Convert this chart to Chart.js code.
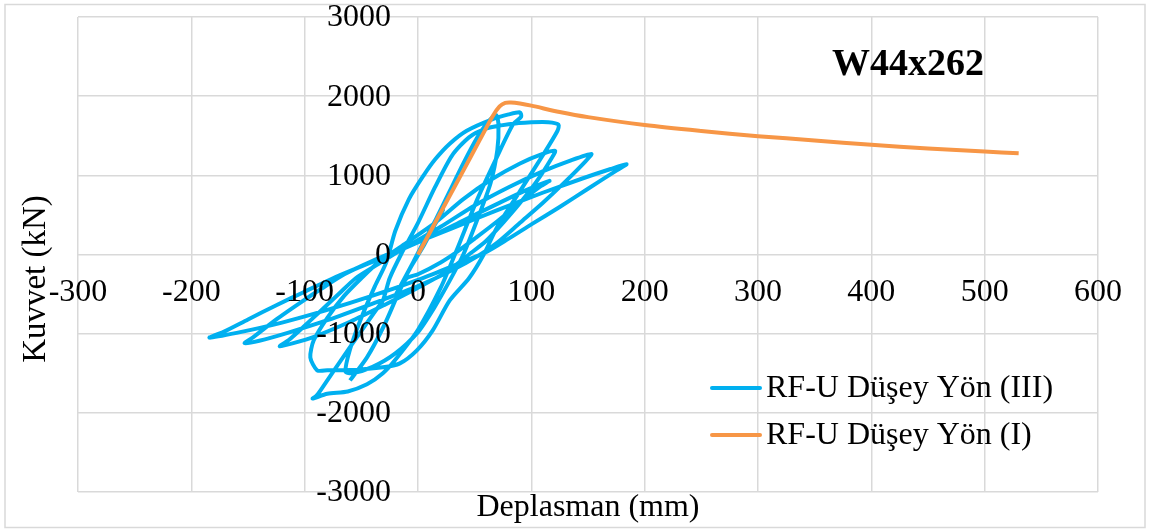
<!DOCTYPE html>
<html>
<head>
<meta charset="utf-8">
<script src="https://cdn.jsdelivr.net/npm/chart.js@4"></script>
<style>
  html, body { margin: 0; padding: 0; background: #fff; }
  #wrap { width: 1150px; height: 532px; }
</style>
</head>
<body>
<div id="wrap"><canvas id="chart" width="1150" height="532"></canvas></div>
<script>
// RF-U Düşey Yön (III) - cyclic
const cyclicDisp = [
  0, 8, 16, 22, 15, 5, -6, -14, -20, -13, -4,
  5, 16, 28, 40, 52, 62, 69, 71, 70, 64, 52, 40,
  28, 14, 0, -20, -40, -58, -64, -60, -50, -38, -28,
  -20, -8, 5, 15, 28, 43, 66, 80, 90, 91, 84, 69.5, 51.8, 34,
  20, 0, -20, -31, -45, -62, -80, -93, -90, -86, -60, -38, -31, -25,
  -15, 0, 15, 30, 45, 60, 80, 100, 115, 124, 123, 110, 90, 70, 58,
  45, 28, 13, -1, -16, -31, -60, -80, -89, -95, -92, -80, -65, -50,
  -35, -10, 15, 40, 65, 90, 110, 121, 118, 105, 90, 75, 60, 45,
  25, 0, -30, -60, -90, -110, -122, -114, -100, -85, -70, -55,
  -35, -10, 20, 50, 80, 110, 135, 153, 148, 130, 110, 90, 70, 55,
  30, 0, -40, -80, -115, -140, -153, -145, -125, -105, -85, -65,
  -40, -10, 30, 70, 110, 145, 170, 184, 175, 150, 125, 100, 80, 60,
  30, 0, -40, -80, -120, -160, -184, -172, -150, -125, -100, -75, -50,
  -20, 10, 40, 70, 95, 116, 108, 90, 70, 50, 35,
  20, 0, -10, -16, -30, -45, -60
];
const cyclicForce = [
  0, 210, 420, 560, 380, 110, -150, -360, -520, -330, -90,
  160, 450, 800, 1150, 1470, 1680, 1760, 1640, 1320, 900, 430, 0,
  -330, -680, -980, -1250, -1420, -1500, -1480, -1200, -800, -400, -100,
  300, 700, 1000, 1200, 1400, 1564, 1711, 1770, 1795, 1740, 1648, 1227, 681, 50,
  -420, -950, -1330, -1500, -1640, -1730, -1760, -1820, -1790, -1715, -1170, -720, -580, -300,
  0, 400, 850, 1250, 1480, 1590, 1645, 1670, 1672, 1640, 1560, 1250, 800, 350, 0,
  -300, -580, -958, -1210, -1375, -1425, -1460, -1463, -1463, -1300, -1084, -800, -520, -300,
  -100, 150, 400, 700, 950, 1150, 1270, 1310, 1220, 930, 650, 400, 170, 0,
  -220, -420, -640, -850, -1030, -1120, -1160, -1080, -900, -700, -500, -300,
  -120, 100, 350, 620, 850, 1050, 1190, 1270, 1180, 920, 650, 400, 150, 0,
  -200, -400, -620, -830, -990, -1090, -1120, -1040, -820, -620, -430, -250,
  -80, 100, 330, 560, 780, 960, 1080, 1140, 1060, 830, 600, 380, 200, 30,
  -150, -320, -520, -700, -860, -990, -1050, -980, -820, -640, -470, -300, -150,
  30, 220, 430, 640, 810, 930, 860, 660, 420, 200, 40,
  -100, -250, -300, -450, -900, -1300, -1590
];

// RF-U Düşey Yön (I) - monotonic
const monoDisp = [0, 20, 40, 55, 66, 72, 77, 82, 90, 100, 125, 150, 200, 250, 300, 350, 400, 450, 500, 530];
const monoForce = [0, 530, 1060, 1460, 1750, 1870, 1915, 1920, 1907, 1880, 1800, 1735, 1635, 1560, 1495, 1440, 1385, 1340, 1300, 1278];

const seriesLabels = ["RF-U Düşey Yön (III)", "RF-U Düşey Yön (I)"];
const seriesColors = ["#00B0F0", "#F79646"];
const xTitle = "Deplasman (mm)";
const yTitle = "Kuvvet (kN)";
const chartTitle = "W44x262";

const toPoints = (xs, ys) => xs.map((x, i) => ({ x: x, y: ys[i] }));

const SERIF = '"Liberation Serif", "Times New Roman", serif';

// excel-like decorations: frame, tick labels at the zero lines, titles, legend
const decorations = {
  id: "decorations",
  beforeDraw(chart) {
    const ctx = chart.ctx;
    ctx.save();
    ctx.fillStyle = "#fff";
    ctx.fillRect(0, 0, chart.width, chart.height);
    ctx.strokeStyle = "#d9d9d9";
    ctx.lineWidth = 1.5;
    ctx.strokeRect(5, 4.5, 1140, 523);
    ctx.restore();
  },
  afterDraw(chart) {
    const ctx = chart.ctx;
    const xs = chart.scales.x;
    const ys = chart.scales.y;
    const x0 = xs.getPixelForValue(0);
    const y0 = ys.getPixelForValue(0);
    ctx.save();
    ctx.fillStyle = "#000";
    ctx.font = "32px " + SERIF;

    // y tick labels
    ctx.textAlign = "right";
    ctx.textBaseline = "middle";
    ys.ticks.forEach((t) => {
      ctx.fillText(String(t.value), x0 - 27, ys.getPixelForValue(t.value) + 1);
    });
    // x tick labels
    ctx.textAlign = "center";
    xs.ticks.forEach((t) => {
      ctx.fillText(String(t.value), xs.getPixelForValue(t.value), y0 + 38);
    });

    // axis titles
    ctx.fillText(xTitle, 588, 508);
    ctx.save();
    ctx.translate(36, 279);
    ctx.rotate(-Math.PI / 2);
    ctx.font = "33px " + SERIF;
    ctx.fillText(yTitle, 0, 0);
    ctx.restore();

    // chart title
    ctx.font = "bold 38px " + SERIF;
    ctx.fillText(chartTitle, 908, 65);

    // legend
    ctx.font = "32px " + SERIF;
    ctx.textAlign = "left";
    const rows = [388, 435];
    seriesLabels.forEach((lab, i) => {
      ctx.strokeStyle = seriesColors[i];
      ctx.lineWidth = 4;
      ctx.lineCap = "round";
      ctx.beginPath();
      ctx.moveTo(712, rows[i]);
      ctx.lineTo(760, rows[i]);
      ctx.stroke();
      ctx.fillText(lab, 766, rows[i] + 1);
    });
    ctx.restore();
  },
};

new Chart(document.getElementById("chart"), {
  type: "scatter",
  data: {
    datasets: [
      {
        label: seriesLabels[0],
        data: toPoints(cyclicDisp, cyclicForce),
        showLine: true,
        borderColor: seriesColors[0],
        backgroundColor: seriesColors[0],
        borderWidth: 4,
        pointRadius: 0,
        tension: 0.25,
        order: 2,
      },
      {
        label: seriesLabels[1],
        data: toPoints(monoDisp, monoForce),
        showLine: true,
        borderColor: seriesColors[1],
        backgroundColor: seriesColors[1],
        borderWidth: 4,
        pointRadius: 0,
        tension: 0.3,
        order: 1,
      },
    ],
  },
  options: {
    responsive: false,
    animation: false,
    layout: { padding: { left: 78, right: 52, top: 17, bottom: 40 } },
    plugins: {
      legend: { display: false },
      tooltip: { enabled: false },
    },
    scales: {
      x: {
        type: "linear",
        min: -300,
        max: 600,
        ticks: { display: false, stepSize: 100 },
        grid: { color: "#d9d9d9", lineWidth: 1.5, drawTicks: false },
        border: { display: false },
      },
      y: {
        type: "linear",
        min: -3000,
        max: 3000,
        ticks: { display: false, stepSize: 1000 },
        grid: { color: "#d9d9d9", lineWidth: 1.5, drawTicks: false },
        border: { display: false },
      },
    },
  },
  plugins: [decorations],
});
</script>
</body>
</html>
